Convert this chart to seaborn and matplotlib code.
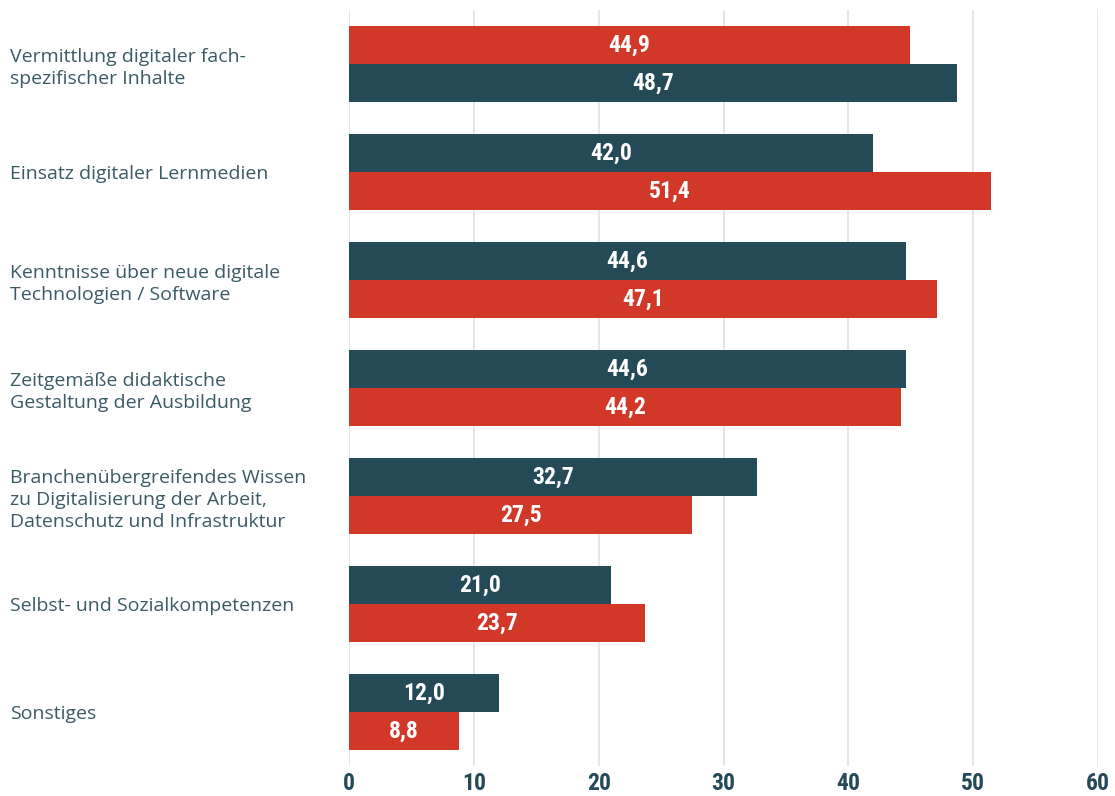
import matplotlib
matplotlib.use("Agg")
import matplotlib.pyplot as plt
import seaborn as sns
import pandas as pd

categories = [
    "Vermittlung digitaler fach-\nspezifischer Inhalte",
    "Einsatz digitaler Lernmedien",
    "Kenntnisse über neue digitale\nTechnologien / Software",
    "Zeitgemäße didaktische\nGestaltung der Ausbildung",
    "Branchenübergreifendes Wissen\nzu Digitalisierung der Arbeit,\nDatenschutz und Infrastruktur",
    "Selbst- und Sozialkompetenzen",
    "Sonstiges",
]
teal_values = [48.7, 42.0, 44.6, 44.6, 32.7, 21.0, 12.0]
red_values = [44.9, 51.4, 47.1, 44.2, 27.5, 23.7, 8.8]
# which series sits in the upper slot of each group
upper_series = ["rot", "teal", "teal", "teal", "teal", "teal", "teal"]
xticks = [0, 10, 20, 30, 40, 50, 60]

TEAL = "#244a58"
RED = "#d13828"
TEXT = "#3a5a66"
NARROW = ["Roboto Condensed", "Lato", "DejaVu Sans"]

rows = []
for c, t, r, up in zip(categories, teal_values, red_values, upper_series):
    if up == "teal":
        rows.append(dict(cat=c, slot="oben", val=t, series="teal"))
        rows.append(dict(cat=c, slot="unten", val=r, series="rot"))
    else:
        rows.append(dict(cat=c, slot="oben", val=r, series="rot"))
        rows.append(dict(cat=c, slot="unten", val=t, series="teal"))
df = pd.DataFrame(rows)

sns.set_theme(style="white")
plt.rcParams["font.family"] = ["Open Sans", "DejaVu Sans"]

fig = plt.figure(figsize=(11.15, 7.96), dpi=100)
ax = fig.add_axes([349 / 1115, 1 - 766 / 796, (1098 - 349) / 1115, (766 - 10) / 796])

sns.barplot(data=df, y="cat", x="val", hue="slot", hue_order=["oben", "unten"],
            order=categories, orient="h", width=0.7, palette=[TEAL, RED],
            legend=False, ax=ax, saturation=1)

lookup = {(r["cat"], r["slot"]): r for r in rows}
for slot, cont in zip(["oben", "unten"], ax.containers):
    for cat, bar in zip(categories, cont):
        rec = lookup[(cat, slot)]
        bar.set_facecolor(TEAL if rec["series"] == "teal" else RED)
        bar.set_edgecolor("none")
        w = bar.get_width()
        ax.text(w / 2, bar.get_y() + bar.get_height() / 2,
                f"{rec['val']:.1f}".replace(".", ","),
                ha="center", va="center", color="white",
                fontsize=17, fontweight="bold", family=NARROW)

ax.set_xlim(0, 60)
ax.set_ylim(6.5, -0.5)
ax.set_xticks(xticks)
ax.set_xticklabels([str(x) for x in xticks], fontsize=17, fontweight="bold",
                   color=TEAL, family=NARROW)
ax.set_xlabel("")
ax.set_ylabel("")
ax.xaxis.grid(True, color="#e2e2e2", linewidth=1.2)
ax.yaxis.grid(False)
ax.set_axisbelow(True)
for s in ax.spines.values():
    s.set_visible(False)
ax.tick_params(axis="x", length=0, pad=4)
ax.tick_params(axis="y", length=0, pad=339 * 72 / 100)
for lbl in ax.get_yticklabels():
    lbl.set_ha("left")
    lbl.set_fontsize(14)
    lbl.set_color(TEXT)
    lbl.set_linespacing(1.3)

fig.savefig("out.png", dpi=100)
